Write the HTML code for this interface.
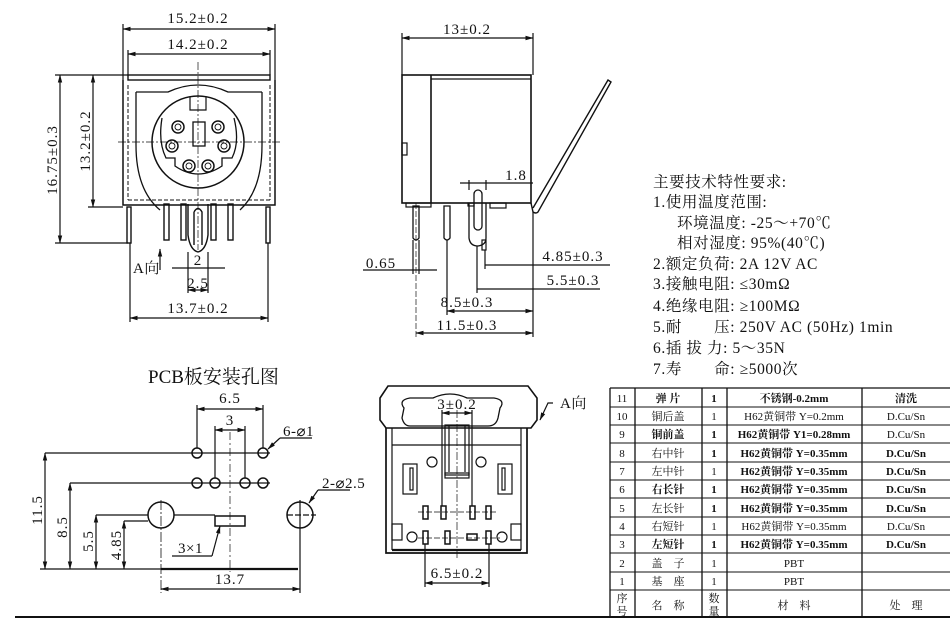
<!DOCTYPE html>
<html><head><meta charset="utf-8"><style>
html,body{margin:0;padding:0;background:#fff;}
svg{display:block;}
text{font-family:"Liberation Serif","Noto Serif CJK SC","Noto Sans CJK SC",serif;fill:#111;}
</style></head><body>
<svg width="950" height="624" viewBox="0 0 950 624" xmlns="http://www.w3.org/2000/svg">
<defs>
<marker id="a" markerWidth="8" markerHeight="6" refX="7.5" refY="3" orient="auto-start-reverse" markerUnits="userSpaceOnUse"><path d="M0,0.8 L8,3 L0,5.2z" fill="#111"/></marker>
</defs>
<g stroke="#111" fill="none" stroke-width="1.2">
<!-- ===== FRONT VIEW ===== -->
<line x1="123" y1="24" x2="123" y2="80"/><line x1="275" y1="24" x2="275" y2="80"/>
<line x1="123" y1="29" x2="275" y2="29" marker-start="url(#a)" marker-end="url(#a)"/>
<line x1="128" y1="50" x2="128" y2="75"/><line x1="270" y1="50" x2="270" y2="75"/>
<line x1="128" y1="54" x2="270" y2="54" marker-start="url(#a)" marker-end="url(#a)"/>
<rect x="128" y="75" width="142" height="5" stroke-width="1.4"/>
<path d="M123,80 L123,205 L275,205 L275,80" stroke-width="1.5"/>
<path d="M136,92 L136,145 Q136,190 160,210 M262,92 L262,145 Q262,190 240,210" stroke-width="1.3"/>
<path d="M136,92 L168,92 Q198,78 228,92 L262,92" stroke-width="1.3"/>
<line x1="128" y1="85" x2="128" y2="200" stroke-dasharray="4,2" stroke-width="1"/><line x1="270" y1="85" x2="270" y2="200" stroke-dasharray="4,2" stroke-width="1"/>
<line x1="128" y1="200" x2="270" y2="200" stroke-dasharray="4,2" stroke-width="1"/>
<circle cx="198" cy="142" r="46" stroke-width="1.5"/>
<path d="M162,118 Q158,142 166,158 L175,158 L175,166 Q198,182 222,166 L222,158 L232,158 Q240,142 234,118" stroke-width="1.3"/>
<path d="M190,97 L190,110 L206,110 L206,97" stroke-width="1.2"/>
<rect x="193" y="122" width="12" height="24" stroke-width="1.3"/>
<g stroke-width="1.5"><circle cx="178" cy="127" r="6"/><circle cx="218" cy="127" r="6"/><circle cx="172" cy="146" r="6"/><circle cx="224" cy="146" r="6"/><circle cx="189" cy="166" r="6"/><circle cx="208" cy="166" r="6"/></g>
<g stroke-width="0.9"><circle cx="178" cy="127" r="3"/><circle cx="218" cy="127" r="3"/><circle cx="172" cy="146" r="3"/><circle cx="224" cy="146" r="3"/><circle cx="189" cy="166" r="3"/><circle cx="208" cy="166" r="3"/></g>
<line x1="118" y1="142" x2="282" y2="142" stroke-dasharray="8,2,2,2" stroke-width="0.7"/>
<line x1="198" y1="62" x2="198" y2="250" stroke-dasharray="8,2,2,2" stroke-width="0.7"/>
<g stroke-width="1.4">
<rect x="127" y="207" width="4" height="36"/><rect x="266" y="207" width="4" height="36"/>
<rect x="164" y="204" width="5" height="36"/><rect x="181" y="204" width="5" height="36"/>
<rect x="211" y="204" width="5" height="36"/><rect x="228" y="204" width="5" height="36"/>
<path d="M188,204 L188,235 Q190,250 198,252 Q206,250 208,235 L208,204"/>
<path d="M194,212 Q198,205 202,212 L202,245 M194,212 L194,245"/>
</g>
<line x1="55" y1="75" x2="128" y2="75"/><line x1="55" y1="243" x2="128" y2="243"/>
<line x1="60" y1="75" x2="60" y2="243" marker-start="url(#a)" marker-end="url(#a)"/>
<line x1="88" y1="207" x2="123" y2="207"/>
<line x1="93" y1="75" x2="93" y2="207" marker-start="url(#a)" marker-end="url(#a)"/>
<line x1="130" y1="243" x2="130" y2="322"/><line x1="268" y1="243" x2="268" y2="322"/>
<line x1="130" y1="318" x2="268" y2="318" marker-start="url(#a)" marker-end="url(#a)"/>
<line x1="188" y1="252" x2="188" y2="293"/><line x1="208" y1="252" x2="208" y2="293"/>
<line x1="172" y1="268" x2="225" y2="268"/>
<line x1="188" y1="290" x2="208" y2="290" marker-start="url(#a)" marker-end="url(#a)"/>
<line x1="160" y1="270" x2="160" y2="249" marker-end="url(#a)"/>
<!-- ===== SIDE VIEW ===== -->
<line x1="402" y1="33" x2="402" y2="75"/><line x1="533" y1="33" x2="533" y2="75"/>
<line x1="402" y1="38" x2="533" y2="38" marker-start="url(#a)" marker-end="url(#a)"/>
<rect x="402" y="75" width="129" height="128" stroke-width="1.6"/>
<line x1="431" y1="75" x2="431" y2="203" stroke-width="1.6"/>
<line x1="431" y1="79" x2="531" y2="79"/>
<rect x="402" y="143" width="5" height="12"/>
<path d="M531,203 L533,212 Q536,214 538,212 L611,82 L608,80 L533,208" stroke-width="1.4"/>
<rect x="406" y="203" width="25" height="4"/>
<rect x="490" y="203" width="16" height="5"/><rect x="468" y="203" width="6" height="3"/>
<path d="M413,206 L413,238 Q416,242 419,238 L419,206 Z" stroke-width="1.3"/>
<path d="M444,206 L444,238 Q447,242 450,238 L450,206 Z" stroke-width="1.3"/>
<path d="M469,203 L469,238 Q470,246 478,246 Q486,245 486,238 L486,203" stroke-width="1.3"/>
<rect x="474" y="190" width="8" height="40" rx="4" stroke-width="1.3"/>
<rect x="482" y="240" width="4" height="10"/>
<line x1="416" y1="203" x2="416" y2="337" stroke-dasharray="6,2" stroke-width="0.7"/>
<line x1="419" y1="240" x2="419" y2="274"/><line x1="413" y1="240" x2="413" y2="274"/>
<line x1="363" y1="270" x2="437" y2="270"/>
<line x1="447" y1="240" x2="447" y2="315"/>
<line x1="477" y1="246" x2="477" y2="293"/>
<line x1="485" y1="250" x2="485" y2="269"/>
<line x1="533" y1="212" x2="533" y2="337"/>
<line x1="469" y1="180" x2="469" y2="190"/><line x1="486" y1="180" x2="486" y2="190"/>
<line x1="460" y1="183" x2="533" y2="183"/>
<line x1="485" y1="265" x2="610" y2="265"/>
<line x1="477" y1="289" x2="600" y2="289"/>
<line x1="447" y1="311" x2="533" y2="311" marker-start="url(#a)" marker-end="url(#a)"/>
<line x1="416" y1="333" x2="533" y2="333" marker-start="url(#a)" marker-end="url(#a)"/>
<!-- ===== PCB ===== -->
<line x1="197" y1="405" x2="197" y2="448"/><line x1="263" y1="405" x2="263" y2="448"/>
<line x1="197" y1="409" x2="263" y2="409" marker-start="url(#a)" marker-end="url(#a)"/>
<line x1="215" y1="426" x2="215" y2="478"/><line x1="245" y1="426" x2="245" y2="478"/>
<line x1="215" y1="430" x2="245" y2="430" marker-start="url(#a)" marker-end="url(#a)"/>
<line x1="230" y1="432" x2="230" y2="572" stroke-dasharray="8,3,2,3" stroke-width="0.7"/>
<g stroke-width="1.5">
<circle cx="197" cy="453" r="5"/><circle cx="263" cy="453" r="5"/>
<circle cx="197" cy="483" r="5"/><circle cx="215" cy="483" r="5"/><circle cx="245" cy="483" r="5"/><circle cx="263" cy="483" r="5"/>
<circle cx="161" cy="515" r="13"/><circle cx="300" cy="515" r="13"/>
<rect x="215" y="516" width="30" height="10"/>
</g>
<line x1="45" y1="453" x2="270" y2="453"/>
<line x1="70" y1="483" x2="270" y2="483"/>
<line x1="96" y1="515" x2="148" y2="515"/><line x1="174" y1="515" x2="215" y2="515"/>
<line x1="124" y1="521" x2="148" y2="521"/>
<line x1="287" y1="515" x2="316" y2="515" stroke-dasharray="6,2"/>
<line x1="161" y1="500" x2="161" y2="593" stroke-dasharray="10,2,2,2" stroke-width="0.8"/>
<line x1="300" y1="500" x2="300" y2="593"/>
<line x1="45" y1="453" x2="45" y2="569" marker-start="url(#a)" marker-end="url(#a)"/>
<line x1="70" y1="483" x2="70" y2="569" marker-start="url(#a)" marker-end="url(#a)"/>
<line x1="96" y1="515" x2="96" y2="569" marker-start="url(#a)" marker-end="url(#a)"/>
<line x1="124" y1="521" x2="124" y2="569" marker-start="url(#a)" marker-end="url(#a)"/>
<line x1="40" y1="569" x2="161" y2="569"/>
<line x1="161" y1="569" x2="298" y2="569" stroke-width="2.2"/>
<line x1="161" y1="589" x2="300" y2="589" marker-start="url(#a)" marker-end="url(#a)"/>
<line x1="268" y1="449" x2="280" y2="438" marker-start="url(#a)"/><line x1="280" y1="438" x2="312" y2="438"/>
<line x1="309" y1="503" x2="318" y2="490" marker-start="url(#a)"/><line x1="318" y1="490" x2="350" y2="490"/>
<line x1="220" y1="526" x2="212" y2="556" marker-start="url(#a)"/><line x1="172" y1="556" x2="212" y2="556"/>
<!-- ===== BOTTOM VIEW ===== -->
<path d="M388,386 L528,386 L537,398 L537,420 L531,428 L386,428 L380,420 L380,398 Z" stroke-width="1.6"/>
<path d="M404,408 Q398,400 410,398 L433,398 Q450,390 467,398 L494,398 Q506,400 500,408 L498,418 Q496,426 488,426 L410,426 Q404,426 402,418 Z" stroke-width="1.3"/>
<path d="M386,428 L386,553 L527,553 L527,428" stroke-width="1.7"/>
<line x1="392" y1="428" x2="392" y2="550"/><line x1="521" y1="428" x2="521" y2="550"/>
<line x1="392" y1="445" x2="521" y2="445"/>
<line x1="392" y1="550" x2="521" y2="550" stroke-width="2.2"/>
<rect x="445" y="425" width="24" height="50"/>
<line x1="449" y1="425" x2="449" y2="472"/><line x1="465" y1="425" x2="465" y2="472"/>
<rect x="445" y="473" width="24" height="5"/>
<circle cx="432" cy="462" r="5"/><circle cx="481" cy="462" r="5"/>
<rect x="403" y="464" width="14" height="30"/><rect x="498" y="464" width="14" height="30"/>
<rect x="410" y="468" width="3" height="22"/><rect x="502" y="468" width="3" height="22"/>
<rect x="392" y="524" width="10" height="16"/><rect x="511" y="524" width="10" height="16"/>
<circle cx="412" cy="537" r="5"/><circle cx="502" cy="537" r="5"/>
<g stroke-width="1.5">
<rect x="423" y="506" width="5" height="13"/><rect x="441" y="506" width="5" height="13"/>
<rect x="470" y="506" width="5" height="13"/><rect x="486" y="506" width="5" height="13"/>
<rect x="423" y="531" width="5" height="13"/><rect x="445" y="531" width="5" height="13"/>
<rect x="467" y="534" width="10" height="6"/><rect x="486" y="531" width="5" height="13"/>
</g>
<line x1="418" y1="512" x2="496" y2="512" stroke-dasharray="6,2" stroke-width="0.7"/>
<line x1="418" y1="538" x2="500" y2="538" stroke-dasharray="6,2" stroke-width="0.7"/>
<line x1="457" y1="410" x2="457" y2="560" stroke-dasharray="8,2,2,2" stroke-width="0.7"/>
<line x1="442" y1="410" x2="442" y2="506"/><line x1="472" y1="410" x2="472" y2="506"/>
<line x1="442" y1="413" x2="472" y2="413" marker-start="url(#a)" marker-end="url(#a)"/>
<line x1="425" y1="544" x2="425" y2="587"/><line x1="489" y1="544" x2="489" y2="587"/>
<line x1="425" y1="583" x2="489" y2="583" marker-start="url(#a)" marker-end="url(#a)"/>
<path d="M553,403 L548,403 L540,420" marker-end="url(#a)"/>
<!-- ===== TABLE ===== -->
<g stroke-width="1.3">
<line x1="610" y1="388" x2="950" y2="388"/>
<line x1="610" y1="388" x2="610" y2="617"/>
<line x1="635" y1="388" x2="635" y2="617"/>
<line x1="702" y1="388" x2="702" y2="617"/>
<line x1="727" y1="388" x2="727" y2="617"/>
<line x1="862" y1="388" x2="862" y2="617"/>
</g>
<g stroke-width="1">
<line x1="610" y1="407" x2="950" y2="407"/><line x1="610" y1="425" x2="950" y2="425"/>
<line x1="610" y1="443" x2="950" y2="443"/><line x1="610" y1="462" x2="950" y2="462"/>
<line x1="610" y1="480" x2="950" y2="480"/><line x1="610" y1="498" x2="950" y2="498"/>
<line x1="610" y1="517" x2="950" y2="517"/><line x1="610" y1="535" x2="950" y2="535"/>
<line x1="610" y1="553" x2="950" y2="553"/><line x1="610" y1="572" x2="950" y2="572"/>
<line x1="610" y1="590" x2="950" y2="590"/>
</g>
<line x1="15" y1="617" x2="950" y2="617" stroke-width="2"/>
</g>
<!-- ===== TEXT ===== -->
<g font-size="15" text-anchor="middle" letter-spacing="1">
<text x="198" y="23">15.2±0.2</text>
<text x="198" y="49">14.2±0.2</text>
<text x="198" y="313">13.7±0.2</text>
<text x="198" y="265">2</text>
<text x="198" y="288">2.5</text>
<text transform="translate(57,160) rotate(-90)">16.75±0.3</text>
<text transform="translate(90,141) rotate(-90)">13.2±0.2</text>
<text x="467" y="34">13±0.2</text>
<text x="381" y="268">0.65</text>
<text x="516" y="180">1.8</text>
<text x="573" y="261">4.85±0.3</text>
<text x="573" y="285">5.5±0.3</text>
<text x="467" y="307">8.5±0.3</text>
<text x="467" y="330">11.5±0.3</text>
<text x="230" y="403">6.5</text>
<text x="230" y="425">3</text>
<text x="230" y="584">13.7</text>
<text transform="translate(42,510) rotate(-90)">11.5</text>
<text transform="translate(67,527) rotate(-90)">8.5</text>
<text transform="translate(93,541) rotate(-90)">5.5</text>
<text transform="translate(121,545) rotate(-90)">4.85</text>
<text x="457" y="409">3±0.2</text>
<text x="457" y="578">6.5±0.2</text>
</g>
<g font-size="15" letter-spacing="0.5">
<text x="133" y="273">A向</text>
<text x="283" y="436">6-⌀1</text>
<text x="322" y="488">2-⌀2.5</text>
<text x="178" y="553">3×1</text>
<text x="560" y="408">A向</text>
</g>
<text x="148" y="383" font-size="19">PCB板安装孔图</text>
<g font-size="15.5" letter-spacing="0.6">
<text x="653" y="187">主要技术特性要求:</text>
<text x="653" y="207">1.使用温度范围:</text>
<text x="677" y="228">环境温度: -25～+70℃</text>
<text x="677" y="248">相对湿度: 95%(40℃)</text>
<text x="653" y="269">2.额定负荷: 2A 12V AC</text>
<text x="653" y="289">3.接触电阻: ≤30mΩ</text>
<text x="653" y="311">4.绝缘电阻: ≥100MΩ</text>
<text x="653" y="332">5.耐　　压: 250V AC (50Hz) 1min</text>
<text x="653" y="353">6.插 拔 力: 5～35N</text>
<text x="653" y="374">7.寿　　命: ≥5000次</text>
</g>
<g font-size="11" text-anchor="middle">
<text x="622" y="402">11</text><text x="668" y="402" font-weight="bold">弹 片</text><text x="714" y="402" font-weight="bold">1</text><text x="794" y="402" font-weight="bold">不锈钢-0.2mm</text><text x="906" y="402" font-weight="bold">清洗</text>
<text x="622" y="420">10</text><text x="668" y="420">铜后盖</text><text x="714" y="420">1</text><text x="794" y="420">H62黄铜带 Y=0.2mm</text><text x="906" y="420">D.Cu/Sn</text>
<text x="622" y="438">9</text><text x="668" y="438" font-weight="bold">铜前盖</text><text x="714" y="438" font-weight="bold">1</text><text x="794" y="438" font-weight="bold">H62黄铜带 Y1=0.28mm</text><text x="906" y="438">D.Cu/Sn</text>
<text x="622" y="457">8</text><text x="668" y="457">右中针</text><text x="714" y="457" font-weight="bold">1</text><text x="794" y="457" font-weight="bold">H62黄铜带 Y=0.35mm</text><text x="906" y="457" font-weight="bold">D.Cu/Sn</text>
<text x="622" y="475">7</text><text x="668" y="475">左中针</text><text x="714" y="475">1</text><text x="794" y="475" font-weight="bold">H62黄铜带 Y=0.35mm</text><text x="906" y="475" font-weight="bold">D.Cu/Sn</text>
<text x="622" y="493">6</text><text x="668" y="493" font-weight="bold">右长针</text><text x="714" y="493" font-weight="bold">1</text><text x="794" y="493" font-weight="bold">H62黄铜带 Y=0.35mm</text><text x="906" y="493" font-weight="bold">D.Cu/Sn</text>
<text x="622" y="512">5</text><text x="668" y="512">左长针</text><text x="714" y="512" font-weight="bold">1</text><text x="794" y="512" font-weight="bold">H62黄铜带 Y=0.35mm</text><text x="906" y="512" font-weight="bold">D.Cu/Sn</text>
<text x="622" y="530">4</text><text x="668" y="530">右短针</text><text x="714" y="530">1</text><text x="794" y="530">H62黄铜带 Y=0.35mm</text><text x="906" y="530">D.Cu/Sn</text>
<text x="622" y="548">3</text><text x="668" y="548" font-weight="bold">左短针</text><text x="714" y="548" font-weight="bold">1</text><text x="794" y="548" font-weight="bold">H62黄铜带 Y=0.35mm</text><text x="906" y="548" font-weight="bold">D.Cu/Sn</text>
<text x="622" y="567">2</text><text x="668" y="567">盖　子</text><text x="714" y="567">1</text><text x="794" y="567">PBT</text>
<text x="622" y="585">1</text><text x="668" y="585">基　座</text><text x="714" y="585">1</text><text x="794" y="585">PBT</text>
<text x="622" y="602">序</text><text x="622" y="615">号</text>
<text x="668" y="609">名　称</text>
<text x="714" y="602">数</text><text x="714" y="615">量</text>
<text x="794" y="609">材　料</text>
<text x="906" y="609">处　理</text>
</g>
</svg>
</body></html>
